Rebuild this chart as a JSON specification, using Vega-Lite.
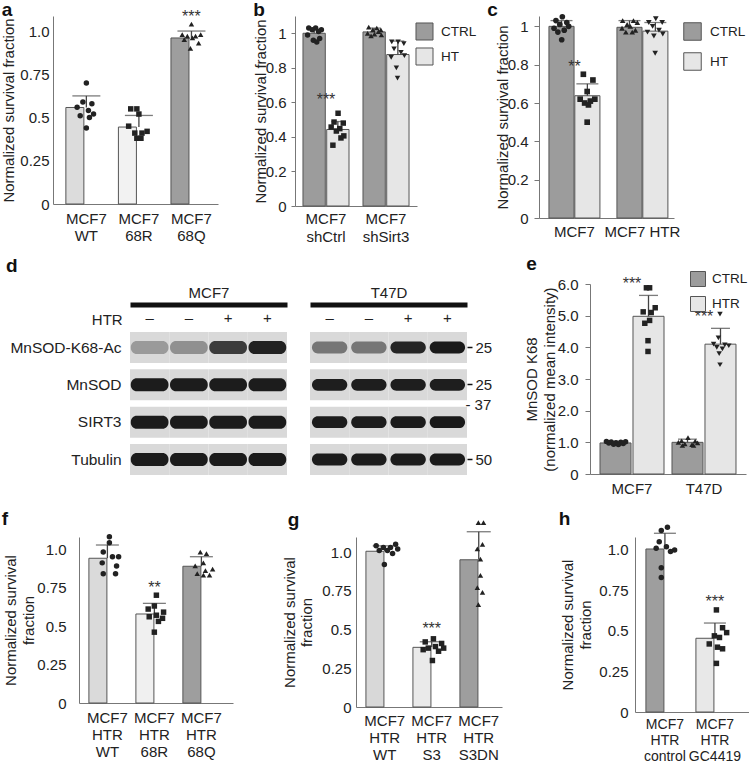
{
"$schema":"https://vega.github.io/schema/vega-lite/v6.json",
"padding":{"left":0,"top":0,"right":0,"bottom":0},
"config":{
 "font":"Liberation Sans",
 "view":{"stroke":null},
 "axis":{"labelFont":"Liberation Sans","titleFont":"Liberation Sans","labelFontSize":15,"titleFontSize":15,"titleFontWeight":"normal","labelColor":"#222","titleColor":"#222","grid":false,"domainColor":"#777","tickColor":"#777","labelFlush":false,"labelOverlap":false},
 "title":{"font":"Liberation Sans","fontSize":19,"fontWeight":"bold","anchor":"start","frame":"bounds","color":"#111","baseline":"alphabetic"},
 "legend":{"labelFont":"Liberation Sans","labelFontSize":13.5,"labelColor":"#222","symbolStrokeColor":"#555","symbolStrokeWidth":1,"symbolType":"square","symbolOpacity":1},
 "text":{"font":"Liberation Sans"}
},
"datasets":{
 "a_bar":[{"g":"MCF7 WT","mean":0.558,"up":0.625,"s":""},{"g":"MCF7 68R","mean":0.445,"up":0.512,"s":""},{"g":"MCF7 68Q","mean":0.96,"up":1.0,"s":"***"}],
 "a_pts":[
  {"g":"MCF7 WT","v":0.70,"j":0},{"g":"MCF7 WT","v":0.59,"j":-0.17},{"g":"MCF7 WT","v":0.58,"j":0.27},{"g":"MCF7 WT","v":0.56,"j":-0.45},{"g":"MCF7 WT","v":0.54,"j":0.1},{"g":"MCF7 WT","v":0.52,"j":0.35},{"g":"MCF7 WT","v":0.51,"j":-0.3},{"g":"MCF7 WT","v":0.50,"j":0.15},{"g":"MCF7 WT","v":0.44,"j":0},
  {"g":"MCF7 68R","v":0.55,"j":-0.4},{"g":"MCF7 68R","v":0.55,"j":-0.1},{"g":"MCF7 68R","v":0.52,"j":0.0},{"g":"MCF7 68R","v":0.45,"j":-0.5},{"g":"MCF7 68R","v":0.42,"j":0.4},{"g":"MCF7 68R","v":0.41,"j":0.15},{"g":"MCF7 68R","v":0.41,"j":-0.2},{"g":"MCF7 68R","v":0.38,"j":-0.1},{"g":"MCF7 68R","v":0.38,"j":0.1},
  {"g":"MCF7 68Q","v":1.04,"j":0},{"g":"MCF7 68Q","v":0.98,"j":-0.45},{"g":"MCF7 68Q","v":0.98,"j":0.45},{"g":"MCF7 68Q","v":0.97,"j":-0.2},{"g":"MCF7 68Q","v":0.97,"j":0.2},{"g":"MCF7 68Q","v":0.96,"j":0.05},{"g":"MCF7 68Q","v":0.95,"j":-0.35},{"g":"MCF7 68Q","v":0.93,"j":0.35},{"g":"MCF7 68Q","v":0.90,"j":-0.05}],
 "b_bar":[{"g":"MCF7 shCtrl","c":"CTRL","mean":1.0,"up":1.022,"s":""},{"g":"MCF7 shCtrl","c":"HT","mean":0.443,"up":0.489,"s":"***"},{"g":"MCF7 shSirt3","c":"CTRL","mean":1.008,"up":1.03,"s":""},{"g":"MCF7 shSirt3","c":"HT","mean":0.877,"up":0.955,"s":""}],
 "b_pts":[
  {"g":"MCF7 shCtrl","c":"CTRL","v":1.03,"j":-0.5},{"g":"MCF7 shCtrl","c":"CTRL","v":1.03,"j":0.1},{"g":"MCF7 shCtrl","c":"CTRL","v":1.02,"j":0.6},{"g":"MCF7 shCtrl","c":"CTRL","v":1.02,"j":-0.2},{"g":"MCF7 shCtrl","c":"CTRL","v":1.01,"j":0.35},{"g":"MCF7 shCtrl","c":"CTRL","v":0.99,"j":-0.6},{"g":"MCF7 shCtrl","c":"CTRL","v":0.97,"j":0.45},{"g":"MCF7 shCtrl","c":"CTRL","v":0.96,"j":-0.1},{"g":"MCF7 shCtrl","c":"CTRL","v":0.95,"j":0.2},
  {"g":"MCF7 shCtrl","c":"HT","v":0.537,"j":0.05},{"g":"MCF7 shCtrl","c":"HT","v":0.486,"j":-0.3},{"g":"MCF7 shCtrl","c":"HT","v":0.48,"j":0.5},{"g":"MCF7 shCtrl","c":"HT","v":0.457,"j":-0.55},{"g":"MCF7 shCtrl","c":"HT","v":0.448,"j":0.2},{"g":"MCF7 shCtrl","c":"HT","v":0.434,"j":-0.1},{"g":"MCF7 shCtrl","c":"HT","v":0.406,"j":0.55},{"g":"MCF7 shCtrl","c":"HT","v":0.394,"j":0.3},{"g":"MCF7 shCtrl","c":"HT","v":0.352,"j":-0.4},
  {"g":"MCF7 shSirt3","c":"CTRL","v":1.035,"j":-0.5},{"g":"MCF7 shSirt3","c":"CTRL","v":1.03,"j":0.2},{"g":"MCF7 shSirt3","c":"CTRL","v":1.02,"j":0.55},{"g":"MCF7 shSirt3","c":"CTRL","v":1.02,"j":-0.15},{"g":"MCF7 shSirt3","c":"CTRL","v":1.01,"j":0.35},{"g":"MCF7 shSirt3","c":"CTRL","v":1.0,"j":-0.6},{"g":"MCF7 shSirt3","c":"CTRL","v":0.995,"j":0.0},{"g":"MCF7 shSirt3","c":"CTRL","v":0.99,"j":0.6},{"g":"MCF7 shSirt3","c":"CTRL","v":0.985,"j":-0.3},
  {"g":"MCF7 shSirt3","c":"HT","v":0.95,"j":-0.5},{"g":"MCF7 shSirt3","c":"HT","v":0.95,"j":0.05},{"g":"MCF7 shSirt3","c":"HT","v":0.94,"j":0.55},{"g":"MCF7 shSirt3","c":"HT","v":0.91,"j":-0.3},{"g":"MCF7 shSirt3","c":"HT","v":0.89,"j":0.3},{"g":"MCF7 shSirt3","c":"HT","v":0.87,"j":0.6},{"g":"MCF7 shSirt3","c":"HT","v":0.86,"j":-0.55},{"g":"MCF7 shSirt3","c":"HT","v":0.80,"j":-0.1},{"g":"MCF7 shSirt3","c":"HT","v":0.74,"j":0}],
 "c_bar":[{"g":"MCF7","c":"CTRL","mean":1.0,"up":1.03,"s":""},{"g":"MCF7","c":"HT","mean":0.638,"up":0.70,"s":"**"},{"g":"MCF7 HTR","c":"CTRL","mean":0.995,"up":1.03,"s":""},{"g":"MCF7 HTR","c":"HT","mean":0.975,"up":1.02,"s":""}],
 "c_pts":[
  {"g":"MCF7","c":"CTRL","v":1.05,"j":0.05},{"g":"MCF7","c":"CTRL","v":1.03,"j":-0.45},{"g":"MCF7","c":"CTRL","v":1.02,"j":0.4},{"g":"MCF7","c":"CTRL","v":1.01,"j":-0.15},{"g":"MCF7","c":"CTRL","v":1.0,"j":0.55},{"g":"MCF7","c":"CTRL","v":0.99,"j":-0.6},{"g":"MCF7","c":"CTRL","v":0.98,"j":0.2},{"g":"MCF7","c":"CTRL","v":0.97,"j":-0.3},{"g":"MCF7","c":"CTRL","v":0.93,"j":0},
  {"g":"MCF7","c":"HT","v":0.75,"j":-0.3},{"g":"MCF7","c":"HT","v":0.72,"j":0.45},{"g":"MCF7","c":"HT","v":0.66,"j":0},{"g":"MCF7","c":"HT","v":0.62,"j":-0.55},{"g":"MCF7","c":"HT","v":0.62,"j":0.6},{"g":"MCF7","c":"HT","v":0.61,"j":0.25},{"g":"MCF7","c":"HT","v":0.60,"j":-0.2},{"g":"MCF7","c":"HT","v":0.59,"j":0.1},{"g":"MCF7","c":"HT","v":0.50,"j":0},
  {"g":"MCF7 HTR","c":"CTRL","v":1.03,"j":-0.55},{"g":"MCF7 HTR","c":"CTRL","v":1.03,"j":0.3},{"g":"MCF7 HTR","c":"CTRL","v":1.02,"j":0.6},{"g":"MCF7 HTR","c":"CTRL","v":1.01,"j":-0.2},{"g":"MCF7 HTR","c":"CTRL","v":1.0,"j":0.05},{"g":"MCF7 HTR","c":"CTRL","v":0.99,"j":-0.6},{"g":"MCF7 HTR","c":"CTRL","v":0.98,"j":0.45},{"g":"MCF7 HTR","c":"CTRL","v":0.97,"j":-0.3},{"g":"MCF7 HTR","c":"CTRL","v":0.97,"j":0.2},
  {"g":"MCF7 HTR","c":"HT","v":1.04,"j":0.05},{"g":"MCF7 HTR","c":"HT","v":1.02,"j":-0.5},{"g":"MCF7 HTR","c":"HT","v":1.02,"j":0.55},{"g":"MCF7 HTR","c":"HT","v":1.0,"j":-0.2},{"g":"MCF7 HTR","c":"HT","v":0.98,"j":0.3},{"g":"MCF7 HTR","c":"HT","v":0.97,"j":-0.6},{"g":"MCF7 HTR","c":"HT","v":0.96,"j":0.6},{"g":"MCF7 HTR","c":"HT","v":0.95,"j":-0.1},{"g":"MCF7 HTR","c":"HT","v":0.86,"j":0}],
 "blot_m":[
  {"lane":1,"row":"MnSOD-K68-Ac","i":0.28},{"lane":2,"row":"MnSOD-K68-Ac","i":0.33},{"lane":3,"row":"MnSOD-K68-Ac","i":0.75},{"lane":4,"row":"MnSOD-K68-Ac","i":0.9},
  {"lane":1,"row":"MnSOD","i":0.93},{"lane":2,"row":"MnSOD","i":0.93},{"lane":3,"row":"MnSOD","i":0.93},{"lane":4,"row":"MnSOD","i":0.93},
  {"lane":1,"row":"SIRT3","i":0.94},{"lane":2,"row":"SIRT3","i":0.94},{"lane":3,"row":"SIRT3","i":0.94},{"lane":4,"row":"SIRT3","i":0.94},
  {"lane":1,"row":"Tubulin","i":0.94},{"lane":2,"row":"Tubulin","i":0.94},{"lane":3,"row":"Tubulin","i":0.94},{"lane":4,"row":"Tubulin","i":0.94}],
 "blot_t":[
  {"lane":1,"row":"MnSOD-K68-Ac","i":0.45},{"lane":2,"row":"MnSOD-K68-Ac","i":0.45},{"lane":3,"row":"MnSOD-K68-Ac","i":0.88},{"lane":4,"row":"MnSOD-K68-Ac","i":0.95},
  {"lane":1,"row":"MnSOD","i":0.92},{"lane":2,"row":"MnSOD","i":0.92},{"lane":3,"row":"MnSOD","i":0.92},{"lane":4,"row":"MnSOD","i":0.92},
  {"lane":1,"row":"SIRT3","i":0.93},{"lane":2,"row":"SIRT3","i":0.93},{"lane":3,"row":"SIRT3","i":0.94},{"lane":4,"row":"SIRT3","i":0.95},
  {"lane":1,"row":"Tubulin","i":0.93},{"lane":2,"row":"Tubulin","i":0.93},{"lane":3,"row":"Tubulin","i":0.93},{"lane":4,"row":"Tubulin","i":0.94}],
 "e_bar":[{"g":"MCF7","c":"CTRL","mean":0.98,"up":1.03,"s":""},{"g":"MCF7","c":"HTR","mean":4.98,"up":5.64,"s":"***"},{"g":"T47D","c":"CTRL","mean":1.0,"up":1.1,"s":""},{"g":"T47D","c":"HTR","mean":4.1,"up":4.6,"s":"***"}],
 "e_pts":[
  {"g":"MCF7","c":"CTRL","v":1.03,"j":-0.6},{"g":"MCF7","c":"CTRL","v":1.02,"j":0.6},{"g":"MCF7","c":"CTRL","v":1.01,"j":-0.3},{"g":"MCF7","c":"CTRL","v":1.0,"j":0.3},{"g":"MCF7","c":"CTRL","v":0.99,"j":0},{"g":"MCF7","c":"CTRL","v":0.98,"j":-0.45},{"g":"MCF7","c":"CTRL","v":0.96,"j":0.45},{"g":"MCF7","c":"CTRL","v":0.94,"j":-0.15},{"g":"MCF7","c":"CTRL","v":0.93,"j":0.15},
  {"g":"MCF7","c":"HTR","v":5.88,"j":-0.1},{"g":"MCF7","c":"HTR","v":5.88,"j":0.1},{"g":"MCF7","c":"HTR","v":5.25,"j":0.45},{"g":"MCF7","c":"HTR","v":5.12,"j":-0.3},{"g":"MCF7","c":"HTR","v":5.10,"j":0.2},{"g":"MCF7","c":"HTR","v":4.85,"j":0.1},{"g":"MCF7","c":"HTR","v":4.76,"j":-0.2},{"g":"MCF7","c":"HTR","v":4.21,"j":0},{"g":"MCF7","c":"HTR","v":3.87,"j":0},
  {"g":"T47D","c":"CTRL","v":1.15,"j":0},{"g":"T47D","c":"CTRL","v":1.05,"j":-0.4},{"g":"T47D","c":"CTRL","v":1.04,"j":0.45},{"g":"T47D","c":"CTRL","v":1.0,"j":-0.6},{"g":"T47D","c":"CTRL","v":0.98,"j":0.6},{"g":"T47D","c":"CTRL","v":0.95,"j":-0.2},{"g":"T47D","c":"CTRL","v":0.93,"j":0.25},{"g":"T47D","c":"CTRL","v":0.9,"j":-0.35},{"g":"T47D","c":"CTRL","v":0.9,"j":0.35},
  {"g":"T47D","c":"HTR","v":5.05,"j":0},{"g":"T47D","c":"HTR","v":4.30,"j":-0.1},{"g":"T47D","c":"HTR","v":4.10,"j":-0.4},{"g":"T47D","c":"HTR","v":4.08,"j":0.3},{"g":"T47D","c":"HTR","v":4.05,"j":0.55},{"g":"T47D","c":"HTR","v":4.0,"j":-0.2},{"g":"T47D","c":"HTR","v":3.95,"j":0.15},{"g":"T47D","c":"HTR","v":3.80,"j":-0.05},{"g":"T47D","c":"HTR","v":3.45,"j":0}],
 "f_bar":[{"g":"MCF7 HTR WT","mean":0.94,"up":1.026,"s":""},{"g":"MCF7 HTR 68R","mean":0.578,"up":0.647,"s":"**"},{"g":"MCF7 HTR 68Q","mean":0.888,"up":0.95,"s":""}],
 "f_pts":[
  {"g":"MCF7 HTR WT","v":1.08,"j":0},{"g":"MCF7 HTR WT","v":1.04,"j":0},{"g":"MCF7 HTR WT","v":0.98,"j":-0.3},{"g":"MCF7 HTR WT","v":0.95,"j":0.15},{"g":"MCF7 HTR WT","v":0.95,"j":0.45},{"g":"MCF7 HTR WT","v":0.91,"j":-0.35},{"g":"MCF7 HTR WT","v":0.89,"j":0.35},{"g":"MCF7 HTR WT","v":0.84,"j":-0.3},{"g":"MCF7 HTR WT","v":0.84,"j":0.3},
  {"g":"MCF7 HTR 68R","v":0.70,"j":0},{"g":"MCF7 HTR 68R","v":0.63,"j":-0.1},{"g":"MCF7 HTR 68R","v":0.61,"j":-0.4},{"g":"MCF7 HTR 68R","v":0.59,"j":0.35},{"g":"MCF7 HTR 68R","v":0.57,"j":0},{"g":"MCF7 HTR 68R","v":0.56,"j":-0.35},{"g":"MCF7 HTR 68R","v":0.55,"j":0.3},{"g":"MCF7 HTR 68R","v":0.53,"j":0.1},{"g":"MCF7 HTR 68R","v":0.46,"j":-0.1},
  {"g":"MCF7 HTR 68Q","v":0.98,"j":-0.15},{"g":"MCF7 HTR 68Q","v":0.97,"j":0.15},{"g":"MCF7 HTR 68Q","v":0.91,"j":0},{"g":"MCF7 HTR 68Q","v":0.89,"j":-0.4},{"g":"MCF7 HTR 68Q","v":0.87,"j":0.45},{"g":"MCF7 HTR 68Q","v":0.86,"j":0.1},{"g":"MCF7 HTR 68Q","v":0.84,"j":-0.3},{"g":"MCF7 HTR 68Q","v":0.83,"j":0.3},{"g":"MCF7 HTR 68Q","v":0.83,"j":0}],
 "g_bar":[{"g":"MCF7 HTR WT","mean":1.005,"up":1.04,"s":""},{"g":"MCF7 HTR S3","mean":0.385,"up":0.421,"s":"***"},{"g":"MCF7 HTR S3DN","mean":0.95,"up":1.131,"s":""}],
 "g_pts":[
  {"g":"MCF7 HTR WT","v":1.05,"j":0.45},{"g":"MCF7 HTR WT","v":1.04,"j":-0.5},{"g":"MCF7 HTR WT","v":1.03,"j":0.2},{"g":"MCF7 HTR WT","v":1.03,"j":-0.15},{"g":"MCF7 HTR WT","v":1.02,"j":0.55},{"g":"MCF7 HTR WT","v":1.01,"j":0.05},{"g":"MCF7 HTR WT","v":1.01,"j":-0.35},{"g":"MCF7 HTR WT","v":0.99,"j":0.3},{"g":"MCF7 HTR WT","v":0.92,"j":-0.1},
  {"g":"MCF7 HTR S3","v":0.44,"j":0},{"g":"MCF7 HTR S3","v":0.42,"j":-0.4},{"g":"MCF7 HTR S3","v":0.41,"j":0.4},{"g":"MCF7 HTR S3","v":0.39,"j":0.1},{"g":"MCF7 HTR S3","v":0.38,"j":-0.25},{"g":"MCF7 HTR S3","v":0.38,"j":0.5},{"g":"MCF7 HTR S3","v":0.37,"j":-0.5},{"g":"MCF7 HTR S3","v":0.36,"j":0.25},{"g":"MCF7 HTR S3","v":0.30,"j":-0.05},
  {"g":"MCF7 HTR S3DN","v":1.19,"j":-0.1},{"g":"MCF7 HTR S3DN","v":1.19,"j":0.15},{"g":"MCF7 HTR S3DN","v":1.05,"j":0.1},{"g":"MCF7 HTR S3DN","v":1.02,"j":-0.15},{"g":"MCF7 HTR S3DN","v":0.955,"j":0},{"g":"MCF7 HTR S3DN","v":0.85,"j":0},{"g":"MCF7 HTR S3DN","v":0.77,"j":-0.15},{"g":"MCF7 HTR S3DN","v":0.74,"j":0.1},{"g":"MCF7 HTR S3DN","v":0.66,"j":-0.1}],
 "h_bar":[{"g":"MCF7 HTR control","mean":1.006,"up":1.103,"s":""},{"g":"MCF7 HTR GC4419","mean":0.455,"up":0.549,"s":"***"}],
 "h_pts":[
  {"g":"MCF7 HTR control","v":1.14,"j":0.05},{"g":"MCF7 HTR control","v":1.12,"j":-0.25},{"g":"MCF7 HTR control","v":1.05,"j":-0.35},{"g":"MCF7 HTR control","v":1.02,"j":0},{"g":"MCF7 HTR control","v":1.01,"j":-0.5},{"g":"MCF7 HTR control","v":1.0,"j":0.4},{"g":"MCF7 HTR control","v":0.99,"j":0.2},{"g":"MCF7 HTR control","v":0.89,"j":-0.25},{"g":"MCF7 HTR control","v":0.83,"j":-0.25},
  {"g":"MCF7 HTR GC4419","v":0.63,"j":0},{"g":"MCF7 HTR GC4419","v":0.52,"j":0.3},{"g":"MCF7 HTR GC4419","v":0.49,"j":0.5},{"g":"MCF7 HTR GC4419","v":0.47,"j":-0.1},{"g":"MCF7 HTR GC4419","v":0.46,"j":0.15},{"g":"MCF7 HTR GC4419","v":0.42,"j":-0.35},{"g":"MCF7 HTR GC4419","v":0.40,"j":0.05},{"g":"MCF7 HTR GC4419","v":0.39,"j":0.3},{"g":"MCF7 HTR GC4419","v":0.30,"j":0}]
},
"align":"each",
"spacing":11,
"resolve":{"scale":{"color":"independent","shape":"independent","x":"independent","y":"independent"},"legend":{"color":"independent","shape":"independent"}},
"vconcat":[
 {"align":"each","spacing":35,"resolve":{"scale":{"color":"independent","shape":"independent","x":"independent","y":"independent"},"legend":{"color":"independent","shape":"independent"}},"hconcat":[
  {"align":"each","spacing":0,"resolve":{"scale":{"color":"independent","shape":"independent","x":"independent","y":"independent"},"legend":{"color":"independent","shape":"independent"}},"hconcat":[
   {"width":1,"height":1,"data":{"values":[]},"mark":{"type":"point","opacity":0}},
   {"title":{"text":"a","offset":-11},"width":165,"height":188,
    "layer":[
     {"data":{"name":"a_bar"},"mark":{"type":"bar","stroke":"#555","strokeWidth":1},
      "encoding":{
       "x":{"field":"g","type":"nominal","sort":["MCF7 WT","MCF7 68R","MCF7 68Q"],"scale":{"paddingInner":0.22,"paddingOuter":0.18,"align":0.68},"axis":{"title":null,"ticks":false,"labelAngle":0,"labelLineHeight":17,"labelPadding":7,"labelExpr":"split(datum.label, ' ')"}},
       "y":{"field":"mean","type":"quantitative","scale":{"domain":[0,1.087],"nice":false},"axis":{"title":"Normalized survival fraction","values":[0,0.25,0.5,0.75,1],"tickCount":12,"labelExpr":"datum.value == 1 ? '1.0' : toString(datum.value)","labelOverlap":false,"ticks":false,"tickSize":0,"labelPadding":4,"titlePadding":3}},
       "color":{"field":"g","type":"nominal","scale":{"domain":["MCF7 WT","MCF7 68R","MCF7 68Q"],"range":["#dcdcdc","#f2f2f2","#9e9e9e"]},"legend":null}}},
     {"data":{"name":"a_bar"},"mark":{"type":"rule","color":"#444","strokeWidth":1.3},
      "encoding":{"x":{"field":"g","type":"nominal","sort":["MCF7 WT","MCF7 68R","MCF7 68Q"]},"y":{"field":"mean","type":"quantitative"},"y2":{"field":"up"}}},
     {"data":{"name":"a_bar"},"mark":{"type":"tick","color":"#444","thickness":1.3,"size":28},
      "encoding":{"x":{"field":"g","type":"nominal","sort":["MCF7 WT","MCF7 68R","MCF7 68Q"]},"y":{"field":"up","type":"quantitative"}}},
     {"data":{"name":"a_pts"},"mark":{"type":"point","filled":true,"size":30,"color":"#222","opacity":1},
      "encoding":{"x":{"field":"g","type":"nominal","sort":["MCF7 WT","MCF7 68R","MCF7 68Q"]},"xOffset":{"field":"j","type":"quantitative","scale":{"domain":[-1,1]}},"y":{"field":"v","type":"quantitative"},"shape":{"field":"g","type":"nominal","scale":{"domain":["MCF7 WT","MCF7 68R","MCF7 68Q"],"range":["circle","square","triangle-up"]},"legend":null}}},
     {"data":{"name":"a_bar"},"transform":[{"filter":"datum.s != ''"}],"mark":{"type":"text","dy":-14,"fontSize":16,"color":"#333"},
      "encoding":{"x":{"field":"g","type":"nominal","sort":["MCF7 WT","MCF7 68R","MCF7 68Q"]},"y":{"field":"up","type":"quantitative"},"text":{"field":"s"}}}
    ]}
  ]},
  {"align":"each","spacing":10,"resolve":{"scale":{"color":"independent","shape":"independent","x":"independent","y":"independent"},"legend":{"color":"independent","shape":"independent"}},"hconcat":[
   {"title":{"text":"b","offset":-4},"width":122,"height":190,
    "resolve":{"scale":{"xOffset":"independent","shape":"independent"}},
    "layer":[
     {"data":{"name":"b_bar"},"mark":{"type":"bar","stroke":"#555","strokeWidth":1},
      "encoding":{
       "x":{"field":"g","type":"nominal","sort":["MCF7 shCtrl","MCF7 shSirt3"],"scale":{"paddingInner":0.233,"paddingOuter":0.133},"axis":{"title":null,"ticks":false,"labelAngle":0,"labelLineHeight":18,"labelPadding":5,"labelExpr":"split(datum.label, ' ')"}},
       "xOffset":{"field":"c","type":"nominal","sort":["CTRL","HT"],"scale":{"paddingInner":0.06}},
       "y":{"field":"mean","type":"quantitative","scale":{"domain":[0,1.1],"nice":false},"axis":{"title":"Normalized survival fraction","values":[0,0.2,0.4,0.6,0.8,1],"tickCount":12,"labelExpr":"toString(datum.value)","labelOverlap":false,"tickSize":4,"labelPadding":5,"titlePadding":-3}},
       "color":{"field":"c","type":"nominal","scale":{"domain":["CTRL","HT"],"range":["#9c9c9c","#e6e6e6"]},"legend":{"title":null,"orient":"none","legendX":120,"legendY":6,"symbolSize":290,"rowPadding":2,"labelOffset":7}}}},
     {"data":{"name":"b_bar"},"mark":{"type":"rule","color":"#444","strokeWidth":1.3},
      "encoding":{"x":{"field":"g","type":"nominal","sort":["MCF7 shCtrl","MCF7 shSirt3"]},"xOffset":{"field":"c","type":"nominal","sort":["CTRL","HT"],"scale":{"paddingInner":0.06}},"y":{"field":"mean","type":"quantitative"},"y2":{"field":"up"}}},
     {"data":{"name":"b_bar"},"mark":{"type":"tick","color":"#444","thickness":1.3,"size":13},
      "encoding":{"x":{"field":"g","type":"nominal","sort":["MCF7 shCtrl","MCF7 shSirt3"]},"xOffset":{"field":"c","type":"nominal","sort":["CTRL","HT"],"scale":{"paddingInner":0.06}},"y":{"field":"up","type":"quantitative"}}},
     {"data":{"name":"b_pts"},"transform":[{"filter":"datum.c == 'CTRL'"}],"mark":{"type":"point","filled":true,"size":30,"color":"#222","opacity":1},
      "encoding":{"x":{"field":"g","type":"nominal","sort":["MCF7 shCtrl","MCF7 shSirt3"]},"xOffset":{"field":"j","type":"quantitative","scale":{"domain":[-1,3]}},"y":{"field":"v","type":"quantitative"},"shape":{"field":"g","type":"nominal","scale":{"domain":["MCF7 shCtrl","MCF7 shSirt3"],"range":["circle","triangle-up"]},"legend":null}}},
     {"data":{"name":"b_pts"},"transform":[{"filter":"datum.c == 'HT'"}],"mark":{"type":"point","filled":true,"size":30,"color":"#222","opacity":1},
      "encoding":{"x":{"field":"g","type":"nominal","sort":["MCF7 shCtrl","MCF7 shSirt3"]},"xOffset":{"field":"j","type":"quantitative","scale":{"domain":[-3,1]}},"y":{"field":"v","type":"quantitative"},"shape":{"field":"g","type":"nominal","scale":{"domain":["MCF7 shCtrl","MCF7 shSirt3"],"range":["square","triangle-down"]},"legend":null}}},
     {"data":{"name":"b_bar"},"transform":[{"filter":"datum.s != ''"}],"mark":{"type":"text","dy":-22,"fontSize":16,"color":"#333"},
      "encoding":{"x":{"field":"g","type":"nominal","sort":["MCF7 shCtrl","MCF7 shSirt3"]},"xOffset":{"field":"c","type":"nominal","sort":["CTRL","HT"],"scale":{"paddingInner":0.06}},"y":{"field":"up","type":"quantitative"},"text":{"field":"s"}}}
    ]},
   {"title":{"text":"c","offset":-6,"dx":-8},"width":135,"height":202,
    "resolve":{"scale":{"xOffset":"independent","shape":"independent"}},
    "layer":[
     {"data":{"name":"c_bar"},"mark":{"type":"bar","stroke":"#555","strokeWidth":1},
      "encoding":{
       "x":{"field":"g","type":"nominal","sort":["MCF7","MCF7 HTR"],"scale":{"paddingInner":0.25,"paddingOuter":0.118,"align":0.62},"axis":{"title":null,"ticks":false,"labelAngle":0,"labelPadding":6}},
       "xOffset":{"field":"c","type":"nominal","sort":["CTRL","HT"],"scale":{"paddingInner":0.03}},
       "y":{"field":"mean","type":"quantitative","scale":{"domain":[0,1.054],"nice":false},"axis":{"title":"Normalized survival fraction","values":[0,0.2,0.4,0.6,0.8,1],"tickCount":12,"labelExpr":"toString(datum.value)","labelOverlap":false,"tickSize":5,"labelPadding":6,"titlePadding":-3}},
       "color":{"field":"c","type":"nominal","scale":{"domain":["CTRL","HT"],"range":["#9c9c9c","#e6e6e6"]},"legend":{"title":null,"orient":"none","legendX":144,"legendY":6,"symbolSize":306,"rowPadding":7,"labelOffset":8}}}},
     {"data":{"name":"c_bar"},"mark":{"type":"rule","color":"#444","strokeWidth":1.3},
      "encoding":{"x":{"field":"g","type":"nominal","sort":["MCF7","MCF7 HTR"]},"xOffset":{"field":"c","type":"nominal","sort":["CTRL","HT"],"scale":{"paddingInner":0.03}},"y":{"field":"mean","type":"quantitative"},"y2":{"field":"up"}}},
     {"data":{"name":"c_bar"},"mark":{"type":"tick","color":"#444","thickness":1.3,"size":22},
      "encoding":{"x":{"field":"g","type":"nominal","sort":["MCF7","MCF7 HTR"]},"xOffset":{"field":"c","type":"nominal","sort":["CTRL","HT"],"scale":{"paddingInner":0.03}},"y":{"field":"up","type":"quantitative"}}},
     {"data":{"name":"c_pts"},"transform":[{"filter":"datum.c == 'CTRL'"}],"mark":{"type":"point","filled":true,"size":32,"color":"#222","opacity":1},
      "encoding":{"x":{"field":"g","type":"nominal","sort":["MCF7","MCF7 HTR"]},"xOffset":{"field":"j","type":"quantitative","scale":{"domain":[-1,3]}},"y":{"field":"v","type":"quantitative"},"shape":{"field":"g","type":"nominal","scale":{"domain":["MCF7","MCF7 HTR"],"range":["circle","triangle-up"]},"legend":null}}},
     {"data":{"name":"c_pts"},"transform":[{"filter":"datum.c == 'HT'"}],"mark":{"type":"point","filled":true,"size":32,"color":"#222","opacity":1},
      "encoding":{"x":{"field":"g","type":"nominal","sort":["MCF7","MCF7 HTR"]},"xOffset":{"field":"j","type":"quantitative","scale":{"domain":[-3,1]}},"y":{"field":"v","type":"quantitative"},"shape":{"field":"g","type":"nominal","scale":{"domain":["MCF7","MCF7 HTR"],"range":["square","triangle-down"]},"legend":null}}},
     {"data":{"name":"c_bar"},"transform":[{"filter":"datum.s != ''"}],"mark":{"type":"text","dy":-17,"fontSize":16,"color":"#333"},
      "encoding":{"x":{"field":"g","type":"nominal","sort":["MCF7","MCF7 HTR"]},"xOffset":{"field":"c","type":"nominal","sort":["CTRL","HT"],"scale":{"paddingInner":0.03}},"y":{"field":"up","type":"quantitative"},"text":{"field":"s"}}}
    ]}
  ]}
 ]},
 {"align":"each","spacing":13,"resolve":{"scale":{"color":"independent","shape":"independent","x":"independent","y":"independent"},"legend":{"color":"independent","shape":"independent"}},"vconcat":[
  {"align":"each","spacing":32,"resolve":{"scale":{"color":"independent","shape":"independent","x":"independent","y":"independent"},"legend":{"color":"independent","shape":"independent"}},"hconcat":[
   {"align":"each","spacing":0,"resolve":{"scale":{"color":"independent","x":"independent","y":"independent"}},"hconcat":[
    {"width":5,"height":1,"data":{"values":[]},"mark":{"type":"point","opacity":0}},
    {"title":{"text":"d","dx":-4,"offset":8},"align":"each","spacing":23,"resolve":{"scale":{"color":"independent","x":"independent","y":"independent"}},"hconcat":[
     {"width":157,"height":191,
      "layer":[
       {"data":{"name":"blot_m"},"mark":{"type":"rect","color":"#d9d9d9"},
        "encoding":{
         "x":{"field":"lane","type":"ordinal","bandPosition":0,"scale":{"type":"band","paddingInner":0,"paddingOuter":0},"axis":{"orient":"top","title":"MCF7","titlePadding":4,"domain":true,"domainColor":"#111","domainWidth":5,"offset":-20.5,"ticks":false,"labelPadding":-21,"labelAngle":0,"labelExpr":"datum.value < 3 ? '–' : '+'"}},
         "x2":{"field":"lane","bandPosition":1},
         "y":{"field":"row","type":"ordinal","bandPosition":0,"sort":["MnSOD-K68-Ac","MnSOD","SIRT3","Tubulin"],"scale":{"type":"band","paddingInner":0.17,"paddingOuter":0.643,"align":1},"axis":{"title":null,"domain":false,"ticks":false,"labelPadding":9,"labelFontSize":15.5}},
         "y2":{"field":"row","bandPosition":1}}},
       {"data":{"name":"blot_m"},"mark":{"type":"rect","cornerRadius":6},
        "encoding":{"x":{"field":"lane","type":"ordinal","bandPosition":0.02},"x2":{"field":"lane","bandPosition":0.98},"y":{"field":"row","type":"ordinal","sort":["MnSOD-K68-Ac","MnSOD","SIRT3","Tubulin"],"bandPosition":0.29},"y2":{"field":"row","bandPosition":0.71},"color":{"field":"i","type":"quantitative","scale":{"domain":[0,1],"range":["#d9d9d9","#101010"]},"legend":null}}},
       {"data":{"values":[{"lane":1,"row":"MnSOD-K68-Ac","t":"HTR"}]},"mark":{"type":"text","align":"right","dx":-27,"dy":-28,"fontSize":15,"color":"#222"},
        "encoding":{"x":{"field":"lane","type":"ordinal"},"y":{"field":"row","type":"ordinal","sort":["MnSOD-K68-Ac","MnSOD","SIRT3","Tubulin"]},"text":{"field":"t"}}}
      ]},
     {"width":157,"height":191,
      "layer":[
       {"data":{"name":"blot_t"},"mark":{"type":"rect","color":"#d9d9d9"},
        "encoding":{
         "x":{"field":"lane","type":"ordinal","bandPosition":0,"scale":{"type":"band","paddingInner":0,"paddingOuter":0},"axis":{"orient":"top","title":"T47D","titlePadding":4,"domain":true,"domainColor":"#111","domainWidth":5,"offset":-20.5,"ticks":false,"labelPadding":-21,"labelAngle":0,"labelExpr":"datum.value < 3 ? '–' : '+'"}},
         "x2":{"field":"lane","bandPosition":1},
         "y":{"field":"row","type":"ordinal","bandPosition":0,"sort":["MnSOD-K68-Ac","MnSOD","SIRT3","Tubulin"],"scale":{"type":"band","paddingInner":0.17,"paddingOuter":0.643,"align":1},"axis":{"orient":"right","title":null,"domain":false,"ticks":true,"tickSize":5,"tickColor":"#111","tickWidth":1.5,"tickOpacity":{"condition":{"test":"datum.value == 'SIRT3'","value":0},"value":1},"labelPadding":3,"labelExpr":"datum.value == 'Tubulin' ? '50' : datum.value == 'SIRT3' ? '' : '25'"}},
         "y2":{"field":"row","bandPosition":1}}},
       {"data":{"name":"blot_t"},"mark":{"type":"rect","cornerRadius":6},
        "encoding":{"x":{"field":"lane","type":"ordinal","bandPosition":0.05},"x2":{"field":"lane","bandPosition":0.95},"y":{"field":"row","type":"ordinal","sort":["MnSOD-K68-Ac","MnSOD","SIRT3","Tubulin"],"bandPosition":0.31},"y2":{"field":"row","bandPosition":0.69},"color":{"field":"i","type":"quantitative","scale":{"domain":[0,1],"range":["#d9d9d9","#101010"]},"legend":null}}},
       {"data":{"values":[{"lane":4,"row":"SIRT3","t":"- 37"}]},"mark":{"type":"text","align":"left","dx":18,"dy":-17,"fontSize":15,"color":"#222"},
        "encoding":{"x":{"field":"lane","type":"ordinal"},"y":{"field":"row","type":"ordinal","sort":["MnSOD-K68-Ac","MnSOD","SIRT3","Tubulin"]},"text":{"field":"t"}}}
      ]}
    ]}
   ]},
   {"title":{"text":"e","offset":-3,"dx":2},"width":156,"height":190,
    "resolve":{"scale":{"xOffset":"independent","shape":"independent"}},
    "layer":[
     {"data":{"name":"e_bar"},"mark":{"type":"bar","stroke":"#555","strokeWidth":1},
      "encoding":{
       "x":{"field":"g","type":"nominal","sort":["MCF7","T47D"],"scale":{"paddingInner":0.111,"paddingOuter":0.139},"axis":{"title":null,"ticks":false,"labelAngle":0,"labelPadding":7}},
       "xOffset":{"field":"c","type":"nominal","sort":["CTRL","HTR"],"scale":{"paddingInner":0.06}},
       "y":{"field":"mean","type":"quantitative","scale":{"domain":[0,6],"nice":false},"axis":{"title":["MnSOD K68","(normalized mean intensity)"],"titleLineHeight":18,"values":[0,1,2,3,4,5,6],"tickCount":12,"labelExpr":"datum.value == 0 ? '0' : format(datum.value, '.1f')","labelOverlap":false,"tickSize":5,"labelPadding":7,"titlePadding":0}},
       "color":{"field":"c","type":"nominal","scale":{"domain":["CTRL","HTR"],"range":["#9c9c9c","#e6e6e6"]},"legend":{"title":null,"orient":"none","legendX":100,"legendY":-13,"symbolSize":225,"rowPadding":5,"labelOffset":6}}}},
     {"data":{"name":"e_bar"},"mark":{"type":"rule","color":"#444","strokeWidth":1.3},
      "encoding":{"x":{"field":"g","type":"nominal","sort":["MCF7","T47D"]},"xOffset":{"field":"c","type":"nominal","sort":["CTRL","HTR"],"scale":{"paddingInner":0.06}},"y":{"field":"mean","type":"quantitative"},"y2":{"field":"up"}}},
     {"data":{"name":"e_bar"},"mark":{"type":"tick","color":"#444","thickness":1.3,"size":19},
      "encoding":{"x":{"field":"g","type":"nominal","sort":["MCF7","T47D"]},"xOffset":{"field":"c","type":"nominal","sort":["CTRL","HTR"],"scale":{"paddingInner":0.06}},"y":{"field":"up","type":"quantitative"}}},
     {"data":{"name":"e_pts"},"transform":[{"filter":"datum.c == 'CTRL'"}],"mark":{"type":"point","filled":true,"size":30,"color":"#222","opacity":1},
      "encoding":{"x":{"field":"g","type":"nominal","sort":["MCF7","T47D"]},"xOffset":{"field":"j","type":"quantitative","scale":{"domain":[-1,3]}},"y":{"field":"v","type":"quantitative"},"shape":{"field":"g","type":"nominal","scale":{"domain":["MCF7","T47D"],"range":["circle","triangle-up"]},"legend":null}}},
     {"data":{"name":"e_pts"},"transform":[{"filter":"datum.c == 'HTR'"}],"mark":{"type":"point","filled":true,"size":30,"color":"#222","opacity":1},
      "encoding":{"x":{"field":"g","type":"nominal","sort":["MCF7","T47D"]},"xOffset":{"field":"j","type":"quantitative","scale":{"domain":[-3,1]}},"y":{"field":"v","type":"quantitative"},"shape":{"field":"g","type":"nominal","scale":{"domain":["MCF7","T47D"],"range":["square","triangle-down"]},"legend":null}}},
     {"data":{"name":"e_bar"},"transform":[{"filter":"datum.s != ''"}],"mark":{"type":"text","dy":-11,"fontSize":16,"color":"#333"},
      "encoding":{"x":{"field":"g","type":"nominal","sort":["MCF7","T47D"]},"xOffset":{"field":"c","type":"nominal","sort":["CTRL","HTR"],"scale":{"paddingInner":0.06}},"y":{"field":"up","type":"quantitative"},"text":{"field":"s"}}}
    ]}
  ]},
  {"align":"each","spacing":49,"resolve":{"scale":{"color":"independent","shape":"independent","x":"independent","y":"independent"},"legend":{"color":"independent","shape":"independent"}},"hconcat":[
   {"align":"each","spacing":0,"resolve":{"scale":{"color":"independent","shape":"independent","x":"independent","y":"independent"},"legend":{"color":"independent","shape":"independent"}},"hconcat":[
    {"width":1,"height":1,"data":{"values":[]},"mark":{"type":"point","opacity":0}},
    {"title":{"text":"f","dx":-2,"offset":5},"width":154,"height":166,
     "layer":[
      {"data":{"name":"f_bar"},"mark":{"type":"bar","stroke":"#555","strokeWidth":1},
       "encoding":{
        "x":{"field":"g","type":"nominal","sort":["MCF7 HTR WT","MCF7 HTR 68R","MCF7 HTR 68Q"],"scale":{"paddingInner":0.213,"paddingOuter":0.245,"align":0.43},"axis":{"title":null,"ticks":false,"labelAngle":0,"labelLineHeight":17,"labelPadding":7,"labelExpr":"split(datum.label, ' ')"}},
        "y":{"field":"mean","type":"quantitative","scale":{"domain":[0,1.078],"nice":false},"axis":{"title":["Normalized survival","fraction"],"titleLineHeight":18,"values":[0,0.25,0.5,0.75,1],"tickCount":12,"labelExpr":"datum.value == 1 ? '1.0' : toString(datum.value)","labelOverlap":false,"ticks":false,"tickSize":0,"labelPadding":13,"titlePadding":0}},
        "color":{"field":"g","type":"nominal","scale":{"domain":["MCF7 HTR WT","MCF7 HTR 68R","MCF7 HTR 68Q"],"range":["#dadada","#f0f0f0","#9e9e9e"]},"legend":null}}},
      {"data":{"name":"f_bar"},"mark":{"type":"rule","color":"#444","strokeWidth":1.3},
       "encoding":{"x":{"field":"g","type":"nominal","sort":["MCF7 HTR WT","MCF7 HTR 68R","MCF7 HTR 68Q"]},"y":{"field":"mean","type":"quantitative"},"y2":{"field":"up"}}},
      {"data":{"name":"f_bar"},"mark":{"type":"tick","color":"#444","thickness":1.3,"size":23},
       "encoding":{"x":{"field":"g","type":"nominal","sort":["MCF7 HTR WT","MCF7 HTR 68R","MCF7 HTR 68Q"]},"y":{"field":"up","type":"quantitative"}}},
      {"data":{"name":"f_pts"},"mark":{"type":"point","filled":true,"size":30,"color":"#222","opacity":1},
       "encoding":{"x":{"field":"g","type":"nominal","sort":["MCF7 HTR WT","MCF7 HTR 68R","MCF7 HTR 68Q"]},"xOffset":{"field":"j","type":"quantitative","scale":{"domain":[-1,1]}},"y":{"field":"v","type":"quantitative"},"shape":{"field":"g","type":"nominal","scale":{"domain":["MCF7 HTR WT","MCF7 HTR 68R","MCF7 HTR 68Q"],"range":["circle","square","triangle-up"]},"legend":null}}},
      {"data":{"name":"f_bar"},"transform":[{"filter":"datum.s != ''"}],"mark":{"type":"text","dy":-15,"fontSize":16,"color":"#333"},
       "encoding":{"x":{"field":"g","type":"nominal","sort":["MCF7 HTR WT","MCF7 HTR 68R","MCF7 HTR 68Q"]},"y":{"field":"up","type":"quantitative"},"text":{"field":"s"}}}
     ]}
   ]},
   {"align":"each","spacing":56,"resolve":{"scale":{"color":"independent","shape":"independent","x":"independent","y":"independent"},"legend":{"color":"independent","shape":"independent"}},"hconcat":[
    {"title":{"text":"g","offset":-10,"dx":5},"width":146,"height":170,
     "layer":[
      {"data":{"name":"g_bar"},"mark":{"type":"bar","stroke":"#555","strokeWidth":1},
       "encoding":{
        "x":{"field":"g","type":"nominal","sort":["MCF7 HTR WT","MCF7 HTR S3","MCF7 HTR S3DN"],"scale":{"paddingInner":0.2,"paddingOuter":0.153,"align":0.69},"axis":{"title":null,"ticks":false,"labelAngle":0,"labelLineHeight":17,"labelPadding":6,"labelExpr":"split(datum.label, ' ')"}},
        "y":{"field":"mean","type":"quantitative","scale":{"domain":[0,1.097],"nice":false},"axis":{"title":["Normalized survival","fraction"],"titleLineHeight":17,"values":[0,0.25,0.5,0.75,1],"tickCount":12,"labelExpr":"datum.value == 1 ? '1.0' : toString(datum.value)","labelOverlap":false,"ticks":false,"tickSize":0,"labelPadding":5,"titlePadding":7}},
        "color":{"field":"g","type":"nominal","scale":{"domain":["MCF7 HTR WT","MCF7 HTR S3","MCF7 HTR S3DN"],"range":["#d8d8d8","#eaeaea","#9e9e9e"]},"legend":null}}},
      {"data":{"name":"g_bar"},"mark":{"type":"rule","color":"#444","strokeWidth":1.3},
       "encoding":{"x":{"field":"g","type":"nominal","sort":["MCF7 HTR WT","MCF7 HTR S3","MCF7 HTR S3DN"]},"y":{"field":"mean","type":"quantitative"},"y2":{"field":"up"}}},
      {"data":{"name":"g_bar"},"mark":{"type":"tick","color":"#444","thickness":1.3,"size":24},
       "encoding":{"x":{"field":"g","type":"nominal","sort":["MCF7 HTR WT","MCF7 HTR S3","MCF7 HTR S3DN"]},"y":{"field":"up","type":"quantitative"}}},
      {"data":{"name":"g_pts"},"mark":{"type":"point","filled":true,"size":30,"color":"#222","opacity":1},
       "encoding":{"x":{"field":"g","type":"nominal","sort":["MCF7 HTR WT","MCF7 HTR S3","MCF7 HTR S3DN"]},"xOffset":{"field":"j","type":"quantitative","scale":{"domain":[-1,1]}},"y":{"field":"v","type":"quantitative"},"shape":{"field":"g","type":"nominal","scale":{"domain":["MCF7 HTR WT","MCF7 HTR S3","MCF7 HTR S3DN"],"range":["circle","square","triangle-up"]},"legend":null}}},
      {"data":{"name":"g_bar"},"transform":[{"filter":"datum.s != ''"}],"mark":{"type":"text","dy":-13,"fontSize":16,"color":"#333"},
       "encoding":{"x":{"field":"g","type":"nominal","sort":["MCF7 HTR WT","MCF7 HTR S3","MCF7 HTR S3DN"]},"y":{"field":"up","type":"quantitative"},"text":{"field":"s"}}}
     ]},
    {"title":{"text":"h","dx":-2,"offset":-4},"width":114,"height":175,
     "layer":[
      {"data":{"name":"h_bar"},"mark":{"type":"bar","stroke":"#555","strokeWidth":1},
       "encoding":{
        "x":{"field":"g","type":"nominal","sort":["MCF7 HTR control","MCF7 HTR GC4419"],"scale":{"paddingInner":0.24,"paddingOuter":0.26,"align":0.42},"axis":{"title":null,"ticks":false,"labelAngle":0,"labelFontSize":14,"labelLineHeight":16,"labelPadding":5,"labelExpr":"split(datum.label, ' ')"}},
        "y":{"field":"mean","type":"quantitative","scale":{"domain":[0,1.08],"nice":false},"axis":{"title":["Normalized survival","fraction"],"titleLineHeight":18,"values":[0,0.25,0.5,0.75,1],"tickCount":12,"labelExpr":"datum.value == 1 ? '1.0' : toString(datum.value)","labelOverlap":false,"ticks":false,"tickSize":0,"labelPadding":7,"titlePadding":5}},
        "color":{"field":"g","type":"nominal","scale":{"domain":["MCF7 HTR control","MCF7 HTR GC4419"],"range":["#9e9e9e","#e8e8e8"]},"legend":null}}},
      {"data":{"name":"h_bar"},"mark":{"type":"rule","color":"#444","strokeWidth":1.3},
       "encoding":{"x":{"field":"g","type":"nominal","sort":["MCF7 HTR control","MCF7 HTR GC4419"]},"y":{"field":"mean","type":"quantitative"},"y2":{"field":"up"}}},
      {"data":{"name":"h_bar"},"mark":{"type":"tick","color":"#444","thickness":1.3,"size":22},
       "encoding":{"x":{"field":"g","type":"nominal","sort":["MCF7 HTR control","MCF7 HTR GC4419"]},"y":{"field":"up","type":"quantitative"}}},
      {"data":{"name":"h_pts"},"mark":{"type":"point","filled":true,"size":30,"color":"#222","opacity":1},
       "encoding":{"x":{"field":"g","type":"nominal","sort":["MCF7 HTR control","MCF7 HTR GC4419"]},"xOffset":{"field":"j","type":"quantitative","scale":{"domain":[-1,1]}},"y":{"field":"v","type":"quantitative"},"shape":{"field":"g","type":"nominal","scale":{"domain":["MCF7 HTR control","MCF7 HTR GC4419"],"range":["circle","square"]},"legend":null}}},
      {"data":{"name":"h_bar"},"transform":[{"filter":"datum.s != ''"}],"mark":{"type":"text","dy":-21,"fontSize":16,"color":"#333"},
       "encoding":{"x":{"field":"g","type":"nominal","sort":["MCF7 HTR control","MCF7 HTR GC4419"]},"y":{"field":"up","type":"quantitative"},"text":{"field":"s"}}}
     ]}
   ]}
  ]}
 ]}
]
}
